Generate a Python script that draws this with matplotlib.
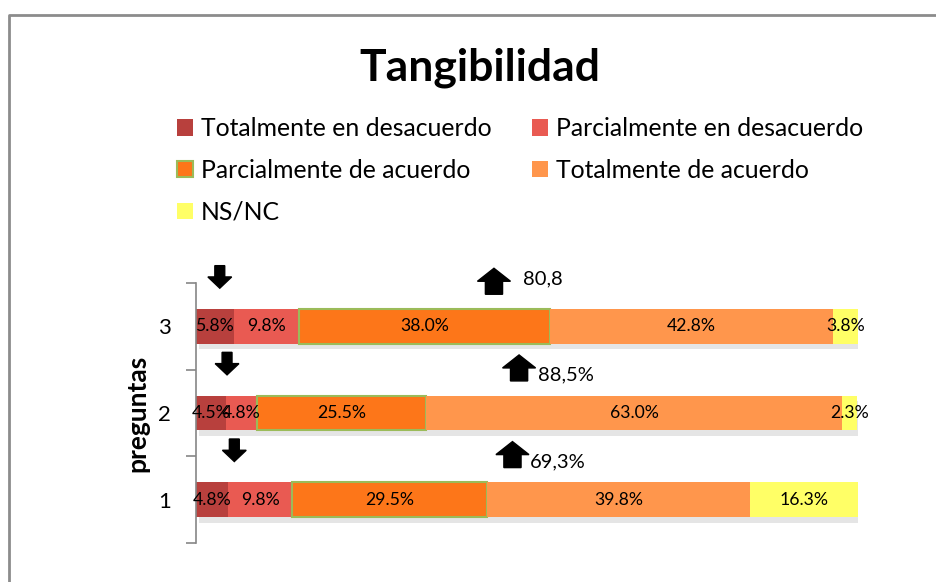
import numpy as np
import matplotlib
matplotlib.use("Agg")
import matplotlib.pyplot as plt
import matplotlib.patches as mpatches
import matplotlib.patheffects as pe
from matplotlib.lines import Line2D

plt.rcParams['font.family'] = ['Lato', 'DejaVu Sans']

# datos
preguntas = [1, 2, 3]
series = ["Totalmente en desacuerdo", "Parcialmente en desacuerdo",
          "Parcialmente de acuerdo", "Totalmente de acuerdo", "NS/NC"]
tot_desac = [4.8, 4.5, 5.8]
parc_desac = [9.8, 4.8, 9.8]
parc_acuerdo = [29.5, 25.5, 38.0]
tot_acuerdo = [39.8, 63.0, 42.8]
ns_nc = [16.3, 2.3, 3.8]

# flechas (posicion x del dato) y textos
flecha_abajo_x = [5.8, 4.7, 3.6]
flecha_arriba_x = [47.9, 48.9, 45.1]
texto_arriba = ["69,3%", "88,5%", "80,8"]
texto_x = [50.6, 51.8, 49.5]
texto_y = [1.435, 2.438, 3.546]

colores = ["#B8403D", "#E95A52", "#FD7619", "#FF964C", "#FFFF66"]
bordes = ["none", "none", "#9BBB59", "none", "none"]

valores = [tot_desac, parc_desac, parc_acuerdo, tot_acuerdo, ns_nc]

fig = plt.figure(figsize=(9.37, 5.82), dpi=100)
ax = fig.add_axes([196/937, 39/582, 662/937, 260/582])

sombra = [pe.SimplePatchShadow(offset=(2, -4), shadow_rgbFace="#aaaaaa", alpha=0.3), pe.Normal()]

izq = np.zeros(3)
handles = []
for nombre, vals, c, b in zip(series, valores, colores, bordes):
    vals = np.array(vals)
    ax.barh(preguntas, vals, left=izq, height=0.4, color=c,
            edgecolor=b, linewidth=1.5 if b != "none" else 0,
            path_effects=sombra)
    for y, l, v in zip(preguntas, izq, vals):
        ax.text(l + v/2, y, f"{v:.1f}%", ha="center", va="center", fontsize=12.7)
    handles.append(mpatches.Patch(facecolor=c, edgecolor=b,
                                  linewidth=1.5 if b != "none" else 0))
    izq = izq + vals

# flechas
for y, xa, xb in zip(preguntas, flecha_abajo_x, flecha_arriba_x):
    a = mpatches.FancyArrow(xa, y + 0.70, 0, -0.26, width=1.5, head_width=3.6,
                            head_length=0.13, length_includes_head=True,
                            color="black", clip_on=False)
    ax.add_patch(a)
    b = mpatches.FancyArrow(xb, y + 0.37, 0, 0.30, width=2.6, head_width=5.0,
                            head_length=0.15, length_includes_head=True,
                            color="black", clip_on=False)
    ax.add_patch(b)
for tx, ty, t in zip(texto_x, texto_y, texto_arriba):
    ax.text(tx, ty, t, ha="left", va="center", fontsize=14.5)

ax.set_xlim(0, 100.2)
ax.set_ylim(0.5, 3.5)
ax.set_yticks(preguntas)
ax.set_yticklabels([str(p) for p in preguntas], fontsize=16)
ax.set_yticks([0.5, 1.5, 2.5, 3.5], minor=True)
ax.tick_params(axis="y", which="major", length=0, pad=18)
ax.tick_params(axis="y", which="minor", length=7, color="#868686", width=1.2)
ax.set_xticks([])
for s in ["top", "right", "bottom"]:
    ax.spines[s].set_visible(False)
ax.spines["left"].set_color("#868686")
ax.spines["left"].set_linewidth(1.2)
ax.set_ylabel("preguntas", fontsize=19, fontweight="bold", labelpad=6)

fig.suptitle("Tangibilidad", fontsize=32, fontweight="bold", x=0.512, y=0.918)

# leyenda (orden por columnas)
orden = [0, 2, 4, 1, 3]
fig.legend([handles[i] for i in orden], [series[i] for i in orden],
           ncol=2, loc="upper left", bbox_to_anchor=(165/937, 1 - 105/582),
           frameon=False, fontsize=17.8, handlelength=0.65, handleheight=0.65,
           handletextpad=0.3, columnspacing=1.64, labelspacing=0.75, borderpad=0)

# marco
fig.add_artist(Line2D([9/937, 9/937, 1], [0, 1 - 15/582, 1 - 15/582],
                      transform=fig.transFigure, color="#8C8C8C", lw=2))

fig.savefig("out.png", dpi=100)
